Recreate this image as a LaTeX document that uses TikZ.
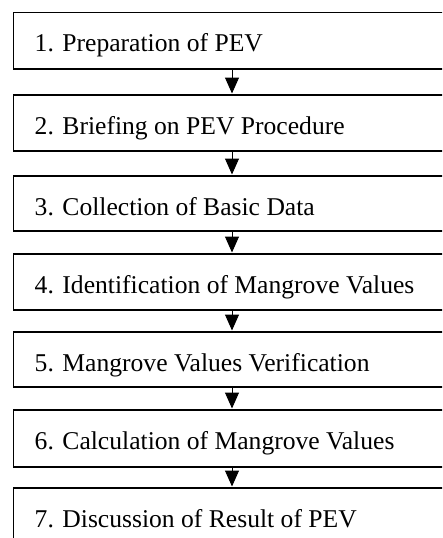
\documentclass[tikz,border=0pt]{standalone}
\usepackage{fontspec}
\setmainfont{Liberation Serif}
\usetikzlibrary{arrows.meta}
\begin{document}
\begin{tikzpicture}[x=1pt,y=-1pt,
  stagebox/.style={draw=black, line width=1.6pt, fill=white, anchor=north west,
    minimum width=450pt, minimum height=56pt, inner sep=0pt},
  stagetext/.style={anchor=base west, inner sep=0pt,
    font=\fontsize{25.6pt}{30pt}\selectfont},
  flow/.style={draw=black, line width=1pt,
    -{Triangle[length=16pt, width=14pt]}, shorten >=0.5pt}]
\useasboundingbox (0,0) rectangle (442,538);
\clip (0,0) rectangle (442,538);
% boxes of the procedure, top edges and heights in pixels
\foreach \i/\t/\h/\lab in {
  1/11.5/56.5/{1. Preparation of PEV},
  2/94/56/{2. Briefing on PEV Procedure},
  3/175/55/{3. Collection of Basic Data},
  4/253/56/{4. Identification of Mangrove Values},
  5/331/55/{5. Mangrove Values Verification},
  6/409/57/{6. Calculation of Mangrove Values},
  7/487/57/{7. Discussion of Result of PEV}} {
  \node[stagebox, minimum height=\h pt] (b\i) at (12.5,\t) {};
  \node[stagetext] (t\i) at (34.5,\t+40) {\lab};
}
% connectors between consecutive boxes
\foreach \i/\j in {1/2,2/3,3/4,4/5,5/6,6/7} {
  \coordinate (s\i) at (232,0 |- b\i.south);
  \coordinate (e\i) at (232,0 |- b\j.north);
  \draw[flow] (s\i) -- (e\i);
}
\end{tikzpicture}
\end{document}
